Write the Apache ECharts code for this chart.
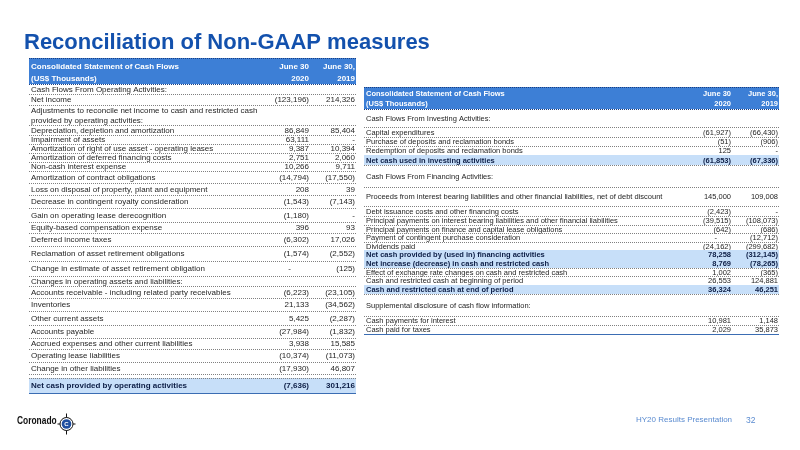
<!DOCTYPE html>
<html><head><meta charset="utf-8">
<script src="https://cdn.jsdelivr.net/npm/echarts@6/dist/echarts.min.js"></script>
<style>html,body{margin:0;padding:0;background:#fff}#c{width:800px;height:450px}</style>
</head><body><div id="c"></div>
<script>
// ---------- DATA ----------
const titleText = 'Reconciliation of Non-GAAP measures';
const headerLabels = ['Consolidated Statement of Cash Flows', '(US$ Thousands)'];
const head2020 = ['June 30', '2020'];
const head2019 = ['June 30,', '2019'];

const leftLabels = [
  'Cash Flows From Operating Activities:',
  'Net income',
  'Adjustments to reconcile net income to cash and restricted cash',
  'provided by operating activities:',
  'Depreciation, depletion and amortization',
  'Impairment of assets',
  'Amortization of right of use asset - operating leases',
  'Amortization of deferred financing costs',
  'Non-cash interest expense',
  'Amortization of contract obligations',
  'Loss on disposal of property, plant and equipment',
  'Decrease in contingent royalty consideration',
  'Gain on operating lease derecognition',
  'Equity-based compensation expense',
  'Deferred income taxes',
  'Reclamation of asset retirement obligations',
  'Change in estimate of asset retirement obligation',
  'Changes in operating assets and liabilities:',
  'Accounts receivable - including related party receivables',
  'Inventories',
  'Other current assets',
  'Accounts payable',
  'Accrued expenses and other current liabilities',
  'Operating lease liabilities',
  'Change in other liabilities',
  'Net cash provided by operating activities'
];
const left2020 = [null, -123196, null, null, 86849, 63111, 9387, 2751, 10266, -14794, 208, -1543, -1180, 396, -6302, -1574, 0, null, -6223, 21133, 5425, -27984, 3938, -10374, -17930, -7636];
const left2019 = [null, 214326, null, null, 85404, 0, 10394, 2060, 9711, -17550, 39, -7143, 0, 93, 17026, -2552, -125, null, -23105, -34562, -2287, -1832, 15585, -11073, 46807, 301216];
const leftKinds = ['head','item','wrap','head','item','item','item','item','item','item','item','item','item','item','item','item','item','head','item','item','item','item','item','item','item','total'];

const rightLabels = [
  'Cash Flows From Investing Activities:',
  'Capital expenditures',
  'Purchase of deposits and reclamation bonds',
  'Redemption of deposits and reclamation bonds',
  'Net cash used in investing activities',
  'Cash Flows From Financing Activities:',
  'Proceeds from interest bearing liabilities and other financial liabilities, net of debt discount',
  'Debt issuance costs and other financing costs',
  'Principal payments on interest bearing liabilities and other financial liabilities',
  'Principal payments on finance and capital lease obligations',
  'Payment of contingent purchase consideration',
  'Dividends paid',
  'Net cash provided by (used in) financing activities',
  'Net increase (decrease) in cash and restricted cash',
  'Effect of exchange rate changes on cash and restricted cash',
  'Cash and restricted cash at beginning of period',
  'Cash and restricted cash at end of period',
  'Supplemental disclosure of cash flow information:',
  'Cash payments for interest',
  'Cash paid for taxes'
];
const right2020 = [null, -61927, -51, 125, -61853, null, 145000, -2423, -39515, -642, 0, -24162, 78258, 8769, 1002, 26553, 36324, null, 10981, 2029];
const right2019 = [null, -66430, -906, 0, -67336, null, 109008, 0, -108073, -686, -12712, -299682, -312145, -78265, -365, 124881, 46251, null, 1148, 35873];
const rightKinds = ['head','item','item','item','total','head','item','item','item','item','item','item','total','total','item','item','total','head','item','last'];

const footerLeft = 'Coronado';
const footerRight = 'HY20 Results Presentation';
const pageNumber = '32';

// ---------- LAYOUT / STYLE ----------
const FONT = 'Liberation Sans, Arial, sans-serif';
const C_HEAD = '#3d7fd6';
const C_TOTAL = '#c7dff9';
const C_DOT = '#808080';
const C_TEXT = '#1e1e1e';
const C_TOTAL_TEXT = '#0c1d45';
const C_RULE = '#3b6db3';

const leftLayout = {
  x0: 29, x1: 356, c20: 309, c19: 355, top: 58, headH: 26, headY: [67, 79],
  fontSize: 8, dashOff: 18, totalGap: 4,
  heights: [10,11,10,10,10,9,9,9,9,12,12,13,14,11,13,15,15,10,12,13,14,13,11,13,12,19]
};
const rightLayout = {
  x0: 364, x1: 779, c20: 731, c19: 778, top: 87, headH: 22, headY: [94, 104],
  fontSize: 7.5, dashOff: 14, totalGap: 0,
  heights: [18,10,9,9,10,22,19,10,9,8,9,8,9,9,8,9,9,22,9,9]
};

function fmt(v) {
  if (v === null || v === undefined) return '';
  if (v === 0) return '-';
  const s = Math.abs(v).toLocaleString('en-US');
  return v < 0 ? '(' + s + ')' : s;
}

function txt(x, y, text, size, opts) {
  return {
    type: 'text', x: x, y: y,
    style: Object.assign({
      text: text, fill: C_TEXT, fontSize: size, fontFamily: FONT,
      textAlign: 'left', textVerticalAlign: 'middle'
    }, opts || {})
  };
}
function hline(x1, x2, y, style) {
  return { type: 'line', shape: { x1: x1, y1: Math.round(y) + 0.5, x2: x2, y2: Math.round(y) + 0.5 }, style: style };
}
const dotted = { stroke: C_DOT, lineWidth: 1, lineDash: [1, 1] };

function headerSeries(L) {
  return {
    type: 'custom', coordinateSystem: 'cartesian2d', clip: false, silent: true,
    data: [[0, 0]],
    renderItem: function (params, api) {
      const tl = api.coord([L.x0, L.top]);
      const br = api.coord([L.x1, L.top + L.headH]);
      const children = [
        { type: 'rect', shape: { x: tl[0], y: tl[1], width: br[0] - tl[0], height: br[1] - tl[1] }, style: { fill: C_HEAD } },
        hline(tl[0], br[0], tl[1], { stroke: '#1b3f80', lineWidth: 1, lineDash: [1, 1] }),
        hline(tl[0], br[0], br[1], { stroke: '#1b3f80', lineWidth: 1, lineDash: [1, 1] })
      ];
      for (let k = 0; k < 2; k++) {
        const yy = api.coord([0, L.headY[k]])[1];
        const bold = { fill: '#ffffff', fontWeight: 'bold' };
        children.push(txt(tl[0] + 2, yy, headerLabels[k], L.fontSize, bold));
        children.push(txt(api.coord([L.c20, 0])[0], yy, head2020[k], L.fontSize, Object.assign({ textAlign: 'right' }, bold)));
        children.push(txt(api.coord([L.c19, 0])[0], yy, head2019[k], L.fontSize, Object.assign({ textAlign: 'right' }, bold)));
      }
      return { type: 'group', children: children };
    }
  };
}

function bodySeries(L, labels, v20, v19, kinds) {
  const tops = [];
  let acc = L.top + L.headH;
  L.heights.forEach(function (h) { tops.push(acc); acc += h; });
  return {
    type: 'custom', coordinateSystem: 'cartesian2d', clip: false, silent: true,
    data: labels.map(function (_, i) { return [i, i]; }),
    renderItem: function (params, api) {
      const i = params.dataIndex;
      const kind = kinds[i];
      const isTotal = kind === 'total';
      const gap = isTotal ? L.totalGap : 0;
      const tl = api.coord([L.x0, tops[i] + gap]);
      const br = api.coord([L.x1, tops[i] + L.heights[i]]);
      const cy = (tl[1] + br[1]) / 2 + 0.5;
      const children = [];
      if (isTotal) {
        children.push({ type: 'rect', shape: { x: tl[0], y: tl[1], width: br[0] - tl[0], height: br[1] - tl[1] }, style: { fill: C_TOTAL } });
        if (gap > 0) children.push(hline(tl[0], br[0], tl[1], dotted));
      }
      const style = isTotal ? { fontWeight: 'bold', fill: C_TOTAL_TEXT } : {};
      children.push(txt(tl[0] + 2, cy, labels[i], L.fontSize, style));
      const x20 = api.coord([L.c20, 0])[0];
      const x19 = api.coord([L.c19, 0])[0];
      if (v20[i] !== null) {
        children.push(txt(v20[i] === 0 ? x20 - L.dashOff : x20, cy, fmt(v20[i]), L.fontSize, Object.assign({ textAlign: 'right' }, style)));
      }
      if (v19[i] !== null) {
        children.push(txt(x19, cy, fmt(v19[i]), L.fontSize, Object.assign({ textAlign: 'right' }, style)));
      }
      const lastRow = i === labels.length - 1;
      if (lastRow) {
        children.push(hline(tl[0], br[0], br[1], { stroke: C_RULE, lineWidth: 1.2 }));
      } else if (kind !== 'wrap') {
        children.push(hline(tl[0], br[0], br[1], dotted));
      }
      return { type: 'group', children: children };
    }
  };
}

const chart = echarts.init(document.getElementById('c'), null, { renderer: 'canvas' });
chart.setOption({
  animation: false,
  backgroundColor: '#ffffff',
  title: {
    text: titleText, left: 24, top: 32, padding: 0,
    textStyle: { fontFamily: FONT, fontSize: 22, fontWeight: 'bold', color: '#1351ad' }
  },
  grid: { left: 0, right: 0, top: 0, bottom: 0 },
  xAxis: { type: 'value', min: 0, max: 800, show: false },
  yAxis: { type: 'value', min: 0, max: 450, inverse: true, show: false },
  series: [
    headerSeries(leftLayout),
    bodySeries(leftLayout, leftLabels, left2020, left2019, leftKinds),
    headerSeries(rightLayout),
    bodySeries(rightLayout, rightLabels, right2020, right2019, rightKinds)
  ],
  graphic: [
    { type: 'text', x: 17, y: 421, scaleX: 0.8, scaleY: 1, originX: 0, originY: 0,
      style: { text: footerLeft, fontFamily: FONT, fontSize: 10.5, fontWeight: 'bold', fill: '#111', textVerticalAlign: 'middle' } },
    { type: 'group', left: 55, top: 411, children: [
      { type: 'line', shape: { x1: 7, y1: 0, x2: 7, y2: 21 }, style: { stroke: '#111', lineWidth: 1 } },
      { type: 'line', shape: { x1: -2, y1: 10.5, x2: 16, y2: 10.5 }, style: { stroke: '#111', lineWidth: 1 } },
      { type: 'circle', shape: { cx: 7, cy: 10.5, r: 6.5 }, style: { fill: '#fff', stroke: '#111', lineWidth: 1 } },
      { type: 'circle', shape: { cx: 7, cy: 10.5, r: 4.8 }, style: { fill: '#1f4fa0' } },
      { type: 'text', x: 7, y: 11, style: { text: 'C', fontFamily: FONT, fontSize: 6, fontWeight: 'bold', fill: '#fff', textAlign: 'center', textVerticalAlign: 'middle' } }
    ]},
    { type: 'text', left: 636, top: 416, style: { text: footerRight, fontFamily: FONT, fontSize: 8, fill: '#5a8bd0' } },
    { type: 'text', left: 746, top: 416, style: { text: pageNumber, fontFamily: FONT, fontSize: 8.5, fill: '#5a8bd0' } }
  ]
});
</script></body></html>
